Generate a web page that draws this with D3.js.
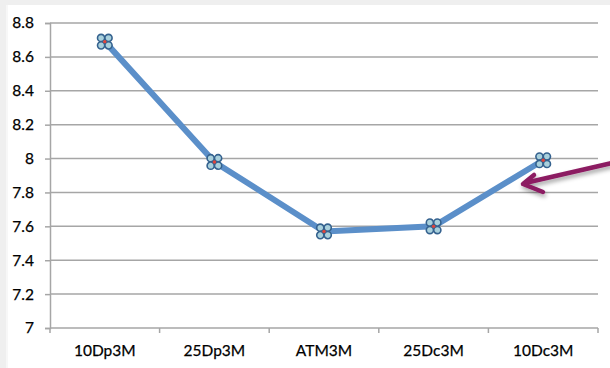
<!DOCTYPE html>
<html>
<head>
<meta charset="utf-8">
<script src="https://cdn.jsdelivr.net/npm/d3@7"></script>
<style>
  html, body { margin: 0; padding: 0; background: #fff; }
  svg { display: block; }
</style>
</head>
<body>
<svg id="chart" width="610" height="368"></svg>
<script>
// Categories and their values
const categories = ["10Dp3M", "25Dp3M", "ATM3M", "25Dc3M", "10Dc3M"];
const values = [8.69, 7.98, 7.57, 7.60, 7.99];
const yTicks = [7, 7.2, 7.4, 7.6, 7.8, 8, 8.2, 8.4, 8.6, 8.8];
const yTickLabels = ["7", "7.2", "7.4", "7.6", "7.8", "8", "8.2", "8.4", "8.6", "8.8"];

const svg = d3.select("#chart");
const W = 610, H = 368;
const margin = { left: 50, right: 12, top: 23, bottom: 40 };

// Window frame: light grey strips along the top and left edges
svg.append("rect").attr("x", 0).attr("y", 0).attr("width", W).attr("height", 5).attr("fill", "#efefef");
svg.append("rect").attr("x", 0).attr("y", 0).attr("width", 6).attr("height", H).attr("fill", "#efefef");
svg.append("rect").attr("x", 6).attr("y", 5).attr("width", 2).attr("height", H).attr("fill", "#f7f7f7");

const x = d3.scaleBand()
  .domain(categories)
  .range([margin.left, W - margin.right])
  .padding(0);

const y = d3.scaleLinear()
  .domain([7, 8.8])
  .range([H - margin.bottom, margin.top]);

const font = "Lato, 'Open Sans', sans-serif";
const gridColor = "#a6a6a6";
const textColor = "#000";

// Horizontal gridlines
svg.append("g")
  .selectAll("line")
  .data(yTicks.slice(1))
  .join("line")
  .attr("x1", margin.left)
  .attr("x2", W - margin.right)
  .attr("y1", d => y(d))
  .attr("y2", d => y(d))
  .attr("stroke", gridColor)
  .attr("stroke-width", 1.5);

// Y axis
const yAxis = d3.axisLeft(y)
  .tickValues(yTicks)
  .tickFormat((d, i) => yTickLabels[i])
  .tickSize(5)
  .tickPadding(11);
const gy = svg.append("g")
  .attr("transform", `translate(${margin.left},0)`)
  .call(yAxis);
gy.select(".domain").attr("stroke", gridColor).attr("stroke-width", 1.5);
gy.selectAll(".tick line").attr("stroke", gridColor).attr("stroke-width", 1.5);
gy.selectAll(".tick text")
  .attr("font-family", font)
  .attr("font-size", 15.5)
  .attr("fill", textColor)
  .attr("stroke", textColor)
  .attr("stroke-width", 0.25);

// X axis with ticks at category boundaries
const gx = svg.append("g")
  .attr("transform", `translate(0,${y(7)})`);
gx.append("line")
  .attr("x1", margin.left).attr("x2", W - margin.right)
  .attr("stroke", gridColor).attr("stroke-width", 1.5);
const bounds = categories.map(c => x(c)).concat([x(categories[categories.length - 1]) + x.bandwidth()]);
gx.selectAll("line.tk")
  .data(bounds)
  .join("line")
  .attr("class", "tk")
  .attr("x1", d => d).attr("x2", d => d)
  .attr("y1", 0).attr("y2", 5)
  .attr("stroke", gridColor).attr("stroke-width", 1.5);
gx.selectAll("text")
  .data(categories)
  .join("text")
  .attr("x", d => x(d) + x.bandwidth() / 2)
  .attr("y", 28)
  .attr("text-anchor", "middle")
  .attr("font-family", font)
  .attr("font-size", 15.5)
  .attr("fill", textColor)
  .attr("stroke", textColor)
  .attr("stroke-width", 0.25)
  .text(d => d);

// Data line
const line = d3.line()
  .x((d, i) => x(categories[i]) + x.bandwidth() / 2)
  .y(d => y(d));
svg.append("path")
  .datum(values)
  .attr("d", line)
  .attr("fill", "none")
  .attr("stroke", "#5b8fc9")
  .attr("stroke-width", 6)
  .attr("stroke-linejoin", "round");

// Clover markers: four small circles around a red centre dot
const markers = svg.append("g")
  .selectAll("g")
  .data(values)
  .join("g")
  .attr("transform", (d, i) => `translate(${x(categories[i]) + x.bandwidth() / 2},${y(d)})`);
const offs = [[-3.7, -3.7], [3.7, -3.7], [-3.7, 3.7], [3.7, 3.7]];
offs.forEach(([dx, dy]) => {
  markers.append("circle")
    .attr("cx", dx).attr("cy", dy).attr("r", 3.6)
    .attr("fill", "#a9d0dc")
    .attr("stroke", "#35628f")
    .attr("stroke-width", 1.6);
});
markers.append("circle").attr("r", 1.7).attr("fill", "#e0443a");

// Callout arrow pointing at the last point
const defs = svg.append("defs");
const f = defs.append("filter").attr("id", "shadow").attr("x", "-20%").attr("y", "-50%").attr("width", "140%").attr("height", "200%");
f.append("feDropShadow").attr("dx", 1).attr("dy", 3).attr("stdDeviation", 2).attr("flood-color", "#000").attr("flood-opacity", 0.35);

const tip = [523, 184];
const arrow = svg.append("g").attr("filter", "url(#shadow)")
  .attr("stroke", "#8c1b62").attr("stroke-width", 4.5).attr("fill", "none")
  .attr("stroke-linecap", "round").attr("stroke-linejoin", "round");
arrow.append("line").attr("x1", 612).attr("y1", 163).attr("x2", tip[0] + 2).attr("y2", tip[1] - 1);
arrow.append("polyline")
  .attr("points", `${tip[0] + 11},${tip[1] - 9} ${tip[0]},${tip[1]} ${tip[0] + 20},${tip[1] + 8}`);
</script>
</body>
</html>
